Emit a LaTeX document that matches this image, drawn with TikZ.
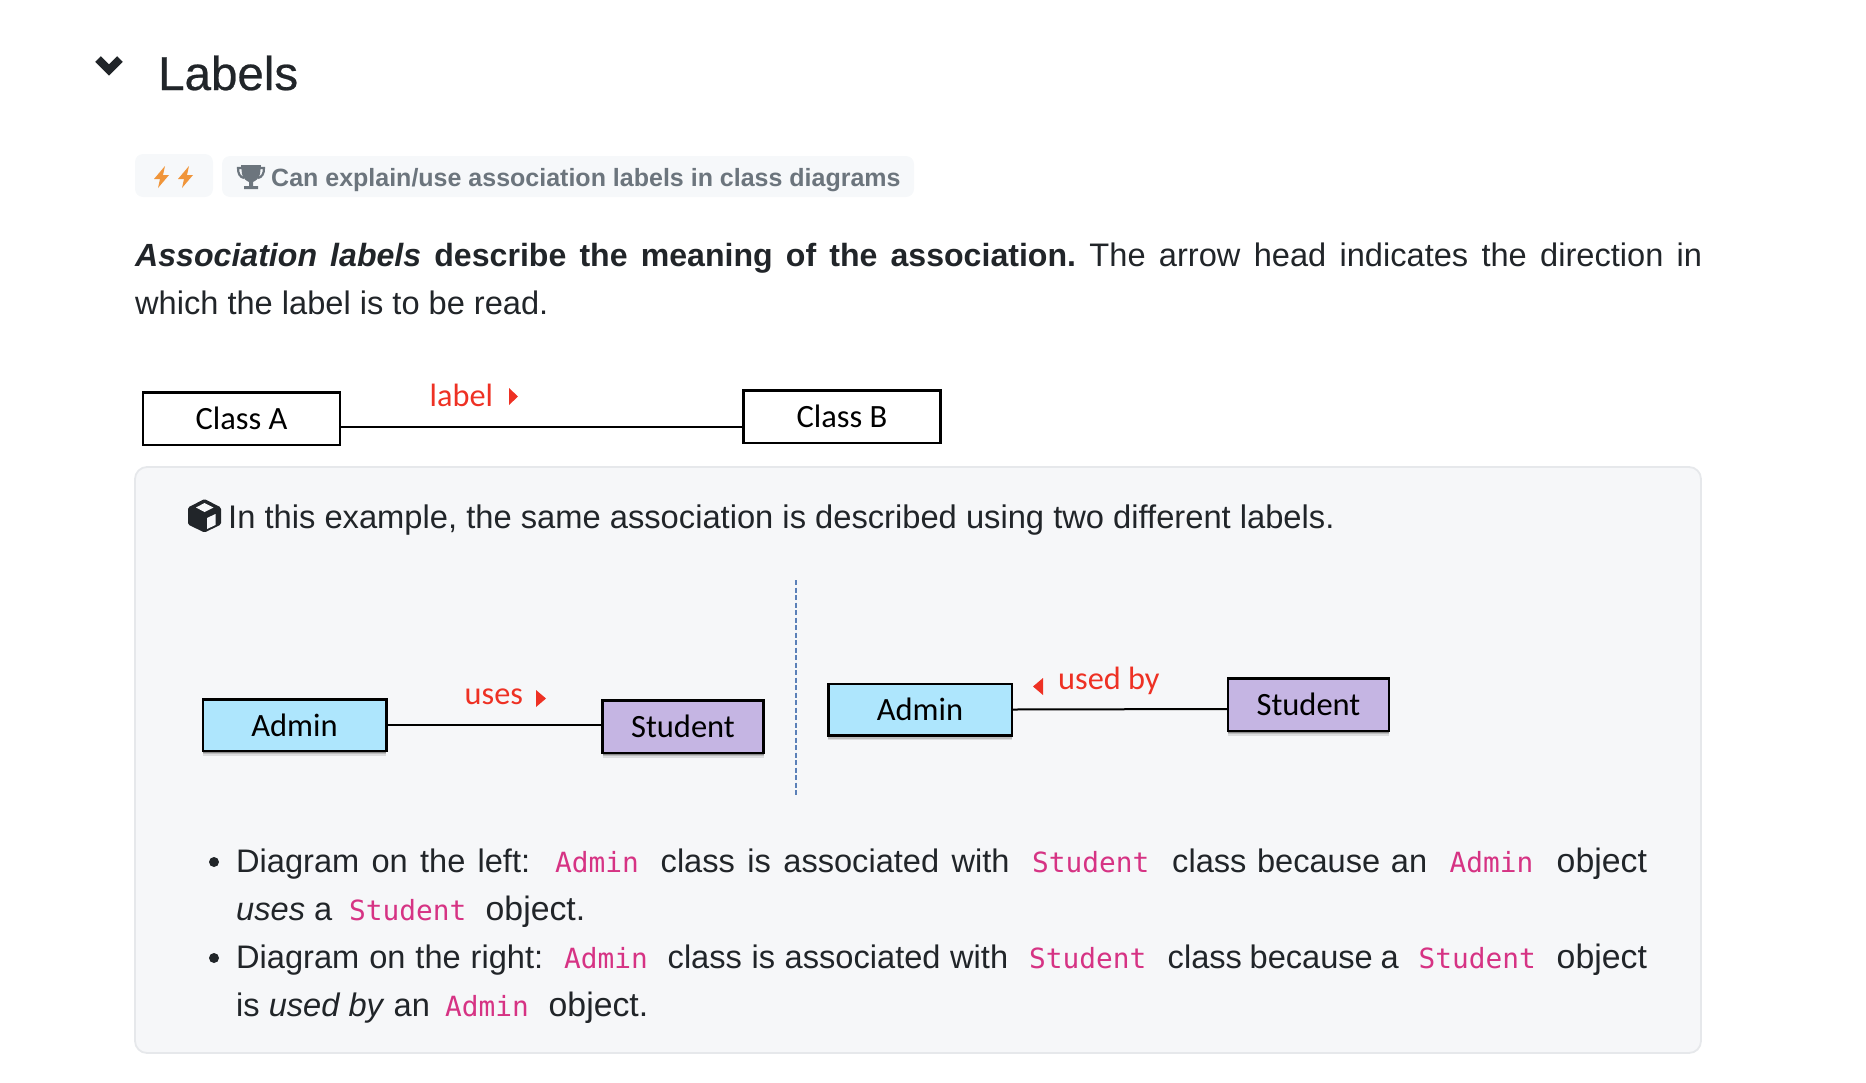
\documentclass[tikz,border=0pt]{standalone}
\usepackage{fontspec}
\setmainfont{Liberation Sans}
\setmonofont{DejaVu Sans Mono}
\newfontfamily\calib{Carlito}
\newfontfamily\titlefont[FakeBold=0.5]{Liberation Sans}
\usetikzlibrary{shadows}
\definecolor{ink}{HTML}{212529}
\definecolor{panelfill}{HTML}{F6F7F9}
\definecolor{panelline}{HTML}{E6E8EB}
\definecolor{badgefill}{HTML}{F6F8FA}
\definecolor{badgetext}{HTML}{6C757D}
\definecolor{bolt}{HTML}{F0953A}
\definecolor{umlred}{HTML}{EE3124}
\definecolor{codepink}{HTML}{D63384}
\definecolor{adminblue}{HTML}{AEE6FD}
\definecolor{studentpurple}{HTML}{C5B5E3}
\definecolor{divider}{HTML}{5B80B8}
\newcommand{\fs}[1]{\fontsize{#1}{#1}\selectfont}
\newcommand{\fit}[2]{\makebox[#1pt][s]{#2}}
\tikzset{
  x=1pt,y=-1pt,
  txt/.style={anchor=base west,inner sep=0pt,text=ink,font=\fs{32.6}\frenchspacing},
  objtxt/.style={txt,font=\fs{33.8}\frenchspacing},
  code/.style={anchor=base west,inner sep=0pt,text=codepink,font=\ttfamily\fs{27.8}},
  umllabel/.style={anchor=base west,inner sep=0pt,text=umlred,font=\calib\fs{32.3}},
  umlbox/.style={draw=black,line width=2.5pt,inner sep=0pt,font=\calib\fs{32.5},text=black},
  plainbox/.style={umlbox,fill=white,minimum width=197pt,minimum height=52.5pt},
  softshadow/.style={
    drop shadow={shadow xshift=0pt,shadow yshift=-5pt,opacity=.10,fill=black},
    drop shadow={shadow xshift=0pt,shadow yshift=-3.5pt,opacity=.15,fill=black},
    drop shadow={shadow xshift=0pt,shadow yshift=-2pt,opacity=.25,fill=black}},
  adminbox/.style={umlbox,softshadow,fill=adminblue,minimum width=183.5pt,minimum height=51.5pt},
  studentbox/.style={umlbox,softshadow,fill=studentpurple,minimum width=161pt,minimum height=52.5pt},
  assoc/.style={draw=black,line width=2pt},
}
\begin{document}
\begin{tikzpicture}
\useasboundingbox (0,0) rectangle (1866,1082);
% heading
\draw[ink,line width=8pt,miter limit=10] (98,59) -- (109,70) -- (120,59);
\node[txt,font=\titlefont\fs{47.5}] (title) at (158,90) {Labels};
% badges
\fill[badgefill,rounded corners=8pt] (135,154) rectangle (213,197);
\fill[badgefill,rounded corners=8pt] (222,156) rectangle (914,197);
\fill[bolt] (165,166) -- (154,179) -- (160,179) -- (158,188) -- (169,175) -- (163,175) -- cycle;
\fill[bolt] (189,166) -- (178,179) -- (184,179) -- (182,188) -- (193,175) -- (187,175) -- cycle;
\fill[badgetext] (241,165) -- (261,165) -- (260,174) .. controls (259,179) and (255,181) .. (253,182) -- (253,186) -- (258,186) -- (258,189) -- (244,189) -- (244,186) -- (249,186) -- (249,182) .. controls (247,181) and (243,179) .. (242,174) -- cycle;
\draw[badgetext,line width=2.2pt] (242,168) -- (238,168) .. controls (238,174) and (240,177) .. (244,178);
\draw[badgetext,line width=2.2pt] (260,168) -- (264,168) .. controls (264,174) and (262,177) .. (258,178);
\node[txt,text=badgetext,font=\bfseries\fs{25}] (badge) at (271,186) {Can explain/use association labels in class diagrams};
% paragraph
\node[txt] (para1) at (135,266) {\fit{1567}{{\fs{32.1}\textbf{\textit{Association labels}} \textbf{describe the meaning of the association.}} The arrow head indicates the direction in}};
\node[txt] (para2) at (135,314) {which the label is to be read.};
% first diagram
\node[plainbox] (classA) at (241.5,418.5) {Class A};
\node[plainbox] (classB) at (842,416.5) {Class B};
\draw[assoc] ([yshift=-8.5pt]classA.east) -- ([yshift=-10.5pt]classB.west);
\node[umllabel] (lab) at (429.5,406) {label};
\fill[umlred] (509,388) -- (518,396.5) -- (509,405) -- cycle;
% panel
\draw[panelline,fill=panelfill,line width=1.8pt,rounded corners=12pt] (135,467) rectangle (1701,1053);
% cube
\fill[ink,rounded corners=1.5pt] (204.5,499) -- (221,507.5) -- (221,524.5) -- (204.5,532.5) -- (188,524.5) -- (188,507.5) -- cycle;
\fill[panelfill] (196,507.5) -- (204.5,503) -- (213.5,507.5) -- (204.5,512) -- cycle;
\fill[panelfill] (207,518) -- (215.5,514) -- (215.5,525) -- (207,529) -- cycle;
\node[txt,font=\fs{32.7}\frenchspacing] (intro) at (228,528) {In this example, the same association is described using two different labels.};
% divider
\draw[divider,line width=1.5pt,dash pattern=on 5pt off 2.5pt] (796,580) -- (796,796);
% left diagram
\node[adminbox] (adminL) at (294.5,725) {Admin};
\node[studentbox] (studentL) at (683,726.5) {Student};
\draw[assoc] (adminL.east) -- ([yshift=1.5pt]studentL.west);
\node[umllabel] (uses) at (464.5,704) {uses};
\fill[umlred] (536,690) -- (546,698.5) -- (536,707) -- cycle;
% right diagram
\node[adminbox] (adminR) at (920,709.5) {Admin};
\node[studentbox] (studentR) at (1308.5,704.5) {Student};
\draw[assoc] (adminR.east) -- ([yshift=-4.5pt]studentR.west);
\node[umllabel] (usedby) at (1058,689) {used by};
\fill[umlred] (1043,678) -- (1033,686.5) -- (1043,695) -- cycle;
% bullets
\fill[ink] (214,862) circle (5pt);
\fill[ink] (214,958) circle (5pt);
\node[txt] (a1) at (236,872) {\fit{294}{Diagram on the left:}};
\node[code] (a2) at (555,872) {Admin};
\node[txt] (a3) at (660.5,872) {\fit{349}{class is associated with}};
\node[code] (a4) at (1032,872) {Student};
\node[txt] (a5) at (1172,872) {\fit{255}{class because an}};
\node[code] (a6) at (1449.5,872) {Admin};
\node[objtxt] (a7) at (1556.5,872) {object};
\node[txt] (b1) at (236,920) {\textit{uses} a};
\node[code] (b2) at (349,920) {Student};
\node[objtxt] (b3) at (485.5,920) {object.};
\node[txt] (c1) at (236,968) {\fit{307}{Diagram on the right:}};
\node[code] (c2) at (564,968) {Admin};
\node[txt] (c3) at (667.5,968) {\fit{340.5}{class is associated with}};
\node[code] (c4) at (1029,968) {Student};
\node[txt] (c5) at (1167.5,968) {\fit{231}{class because a}};
\node[code] (c6) at (1418.5,968) {Student};
\node[objtxt] (c7) at (1556.5,968) {object};
\node[txt] (d1) at (236,1016) {is \textit{used by} an};
\node[code] (d2) at (445,1016) {Admin};
\node[objtxt] (d3) at (548.5,1016) {object.};
\end{tikzpicture}
\end{document}
